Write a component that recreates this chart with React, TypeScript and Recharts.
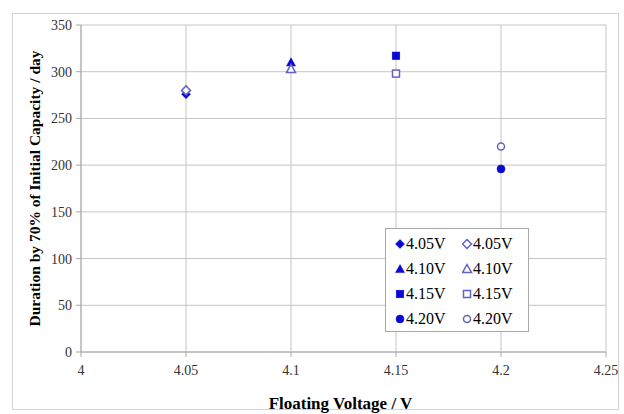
import React from 'react';
import { ScatterChart, Scatter, XAxis, YAxis, CartesianGrid } from 'recharts';

const voltages = [4.05, 4.1, 4.15, 4.2];
const labels = ['4.05V', '4.10V', '4.15V', '4.20V'];
const shapes = ['diamond', 'triangle', 'square', 'circle'];
const filledValues = [276, 310, 317, 196];
const openValues = [280, 303, 298, 220];
const xTicks = [4, 4.05, 4.1, 4.15, 4.2, 4.25];
const yTicks = [0, 50, 100, 150, 200, 250, 300, 350];

const FILL = '#0808d4';
const OPEN = '#6262c4';
const FONT = '"Liberation Serif", "Times New Roman", serif';

function Marker({ type, filled, cx, cy }: { type: string; filled: boolean; cx: number; cy: number }) {
  const fill = filled ? FILL : '#ffffff';
  const stroke = filled ? FILL : OPEN;
  const sw = filled ? 0.5 : 1.5;
  if (type === 'diamond') {
    const r = 4.5;
    return <polygon points={`${cx},${cy - r} ${cx + r},${cy} ${cx},${cy + r} ${cx - r},${cy}`} fill={fill} stroke={stroke} strokeWidth={sw} />;
  }
  if (type === 'triangle') {
    const r = 4.5;
    return <polygon points={`${cx},${cy - r} ${cx + r},${cy + r * 0.8} ${cx - r},${cy + r * 0.8}`} fill={fill} stroke={stroke} strokeWidth={sw} />;
  }
  if (type === 'square') {
    const r = filled ? 3.8 : 3.5;
    return <rect x={cx - r} y={cy - r} width={2 * r} height={2 * r} fill={fill} stroke={stroke} strokeWidth={sw} />;
  }
  return <circle cx={cx} cy={cy} r={filled ? 4 : 3.5} fill={fill} stroke={stroke} strokeWidth={sw} />;
}

const filledData = voltages.map((v, i) => [{ x: v, y: filledValues[i] }]);
const openData = voltages.map((v, i) => [{ x: v, y: openValues[i] }]);

const tickStyle = { fontFamily: FONT, fontSize: 14, fill: '#333' };

function XTick(props: any) {
  const { x, y, payload } = props;
  return (
    <text x={x} y={y + 16} textAnchor="middle" style={tickStyle}>
      {String(payload.value)}
    </text>
  );
}

function YTick(props: any) {
  const { x, y, payload } = props;
  return (
    <text x={x - 2} y={y + 5} textAnchor="end" style={tickStyle}>
      {String(payload.value)}
    </text>
  );
}

function LegendBox() {
  return (
    <div
      style={{
        position: 'absolute',
        left: 385,
        top: 228,
        border: '1px solid #a8a8a8',
        background: '#fff',
        width: 144,
        height: 104,
        boxSizing: 'border-box',
        padding: '2px 0 0 9px',
        fontFamily: FONT,
        fontSize: 16,
        color: '#000',
      }}
    >
      {labels.map((lab, i) => (
        <div key={lab} style={{ display: 'flex', height: 25, alignItems: 'center' }}>
          <div style={{ width: 67, display: 'flex', alignItems: 'center' }}>
            <svg width={11} height={12}>
              <Marker type={shapes[i]} filled cx={5} cy={6} />
            </svg>
            <span>{lab}</span>
          </div>
          <div style={{ display: 'flex', alignItems: 'center' }}>
            <svg width={11} height={12}>
              <Marker type={shapes[i]} filled={false} cx={5} cy={6} />
            </svg>
            <span>{lab}</span>
          </div>
        </div>
      ))}
    </div>
  );
}

export default function App() {
  return (
    <div style={{ position: 'absolute', left: 0, top: 0, width: 624, height: 414, background: '#fff', fontFamily: FONT }}>
      <div
        style={{
          position: 'absolute',
          left: 12,
          top: 13,
          width: 607,
          height: 397,
          border: '1px solid #d4d4d4',
          boxSizing: 'border-box',
        }}
      />
      <div style={{ position: 'absolute', left: 0, top: 0 }}>
        <ScatterChart width={624} height={414} margin={{ top: 25, right: 18, left: 0, bottom: 0 }}>
          <CartesianGrid stroke="#c4c4c4" strokeWidth={1} />
          <XAxis
            type="number"
            dataKey="x"
            domain={[4, 4.25]}
            ticks={xTicks}
            height={62}
            stroke="#a8a8a8"
            tickSize={5}
            tick={<XTick />}
            allowDataOverflow
            label={{
              value: 'Floating Voltage / V',
              position: 'center',
              dy: 20,
              dx: -3,
              style: { fontFamily: FONT, fontSize: 17, fontWeight: 'bold', fill: '#000' },
            }}
          />
          <YAxis
            type="number"
            dataKey="y"
            domain={[0, 350]}
            ticks={yTicks}
            width={81}
            stroke="#a8a8a8"
            tickSize={5}
            tick={<YTick />}
            allowDataOverflow
            label={{
              value: 'Duration by 70% of Initial Capacity / day',
              angle: -90,
              position: 'center',
              dx: -6,
              style: { fontFamily: FONT, fontSize: 15.5, fontWeight: 'bold', fill: '#000', textAnchor: 'middle' },
            }}
          />
          {filledData.map((d, i) => (
            <Scatter
              key={'f' + i}
              name={labels[i]}
              data={d}
              isAnimationActive={false}
              shape={(p: any) => <Marker type={shapes[i]} filled cx={p.cx} cy={p.cy} />}
            />
          ))}
          {openData.map((d, i) => (
            <Scatter
              key={'o' + i}
              name={labels[i] + ' '}
              data={d}
              isAnimationActive={false}
              shape={(p: any) => <Marker type={shapes[i]} filled={false} cx={p.cx} cy={p.cy} />}
            />
          ))}
        </ScatterChart>
      </div>
      <LegendBox />
    </div>
  );
}
